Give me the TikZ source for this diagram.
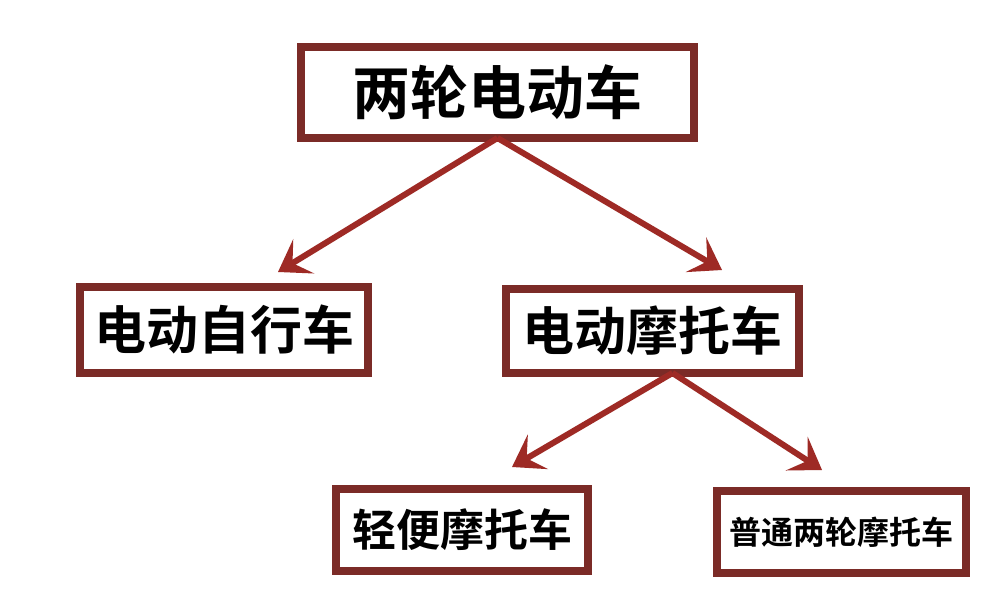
\documentclass[tikz,border=0pt]{standalone}
\usepackage{fontspec}
\newfontfamily\cjk{Noto Sans CJK SC}[BoldFont={Noto Sans CJK SC Bold}]
\usetikzlibrary{arrows.meta}
\definecolor{boxred}{HTML}{7B2B27}
\definecolor{arrred}{HTML}{9E2A25}
\tikzset{
  box/.style={draw=boxred, line width=8pt, fill=white, inner sep=0pt, font=\cjk\bfseries},
  arr/.style={draw=arrred, line width=6pt, -{Stealth[length=30pt,width=40pt,inset=13pt]}}
}
\begin{document}
\begin{tikzpicture}[x=1pt,y=-1pt]
\useasboundingbox (0,0) rectangle (1000,601);
\fill[white] (0,0) rectangle (1000,601);
\node[box, minimum width=393pt, minimum height=91pt, font=\cjk\bfseries\fontsize{58}{60}\selectfont] (top) at (497.5,92.5) {两轮电动车};
\node[box, minimum width=288pt, minimum height=86pt, font=\cjk\bfseries\fontsize{52}{54}\selectfont] (ezx) at (224,330) {电动自行车};
\node[box, minimum width=293pt, minimum height=84pt, font=\cjk\bfseries\fontsize{52}{54}\selectfont] (emt) at (652.5,331) {电动摩托车};
\node[box, minimum width=252pt, minimum height=82pt, font=\cjk\bfseries\fontsize{44}{46}\selectfont] (qb) at (462,530) {轻便摩托车};
\node[box, minimum width=249pt, minimum height=82pt, font=\cjk\bfseries\fontsize{32}{34}\selectfont] (pt) at (841.5,532) {普通两轮摩托车};
\coordinate (t1) at (278,272);
\coordinate (t2) at (722,270);
\coordinate (t3) at (512,467);
\coordinate (t4) at (822,470);
\draw[arr] ([yshift=4pt]top.south) -- (t1);
\draw[arr] ([yshift=4pt]top.south) -- (t2);
\draw[arr] ([xshift=20pt,yshift=4pt]emt.south) -- (t3);
\draw[arr] ([xshift=20pt,yshift=4pt]emt.south) -- (t4);
\end{tikzpicture}
\end{document}
